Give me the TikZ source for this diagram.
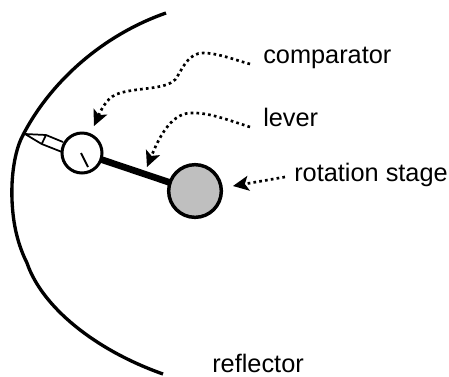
\documentclass[tikz,border=0pt]{standalone}
\usepackage{fontspec}
\setmainfont{Liberation Sans}
\usetikzlibrary{arrows.meta}
\begin{document}
\begin{tikzpicture}[x=0.75pt,y=-0.75pt,
  lbl/.style={inner sep=0pt,font=\fontsize{19}{22}\selectfont,anchor=base west},
  callout/.style={line width=2pt,dash pattern=on 2pt off 2.4pt,-{Stealth[length=12pt,width=11.5pt,inset=3pt,line width=0pt]}},
  body/.style={draw=black,line width=2.25pt},
  thin part/.style={draw=black,line width=1.3pt,line join=miter}]
\useasboundingbox (0,0) rectangle (449,376);
% reflector
\draw[line width=2.5pt] (166,13) .. controls (100,36) and (48,85) .. (22,137) .. controls (15,151) and (11,175) .. (12,200) .. controls (13,225) and (18,245) .. (27,263) .. controls (42,307) and (95,350) .. (163,374);
% probe
\coordinate (tip) at (25,134);
\coordinate (p1) at (46,135);
\coordinate (p2) at (41.7,144);
\coordinate (p3) at (63,142);
\coordinate (p4) at (62,152);
\draw[thin part] (p3) -- (p1) -- (tip) -- (p2) -- (p4);
\draw[thin part] (p1) -- (p2);
% dial
\node[circle,body,fill=white,minimum size=30pt,inner sep=0pt] (dial) at (82,153) {};
\coordinate (n1) at (81,153);
\coordinate (n2) at (88,167);
\draw[thin part,line width=1.4pt] (n1) -- (n2);
% stage and lever
\node[circle,draw=black,line width=2.6pt,fill=black!25,minimum size=39.5pt,inner sep=0pt] (stage) at (195,191) {};
\draw[line width=5pt,shorten >=-1pt,shorten <=-1pt] (dial) -- (stage);
% labels
\node[lbl] (comparator) at (263,63) {comparator};
\node[lbl] (lever) at (263,126) {lever};
\node[lbl] (rotation) at (294,181) {rotation stage};
\node[lbl] (reflector) at (212,372) {reflector};
% callouts
\coordinate (c0) at (250,64);
\coordinate (c1) at (94,126);
\draw[callout] (c0) .. controls (235,60) and (218,53) .. (203,53) .. controls (190,53) and (184,65) .. (177,77) .. controls (170,90) and (140,87) .. (120,93) .. controls (108,96) and (102,108) .. (c1);
\coordinate (d0) at (250,127);
\coordinate (d1) at (147,167);
\draw[callout] (d0) .. controls (228,120) and (208,112) .. (190,113) .. controls (170,114) and (158,140) .. (d1);
\coordinate (e0) at (285,177);
\coordinate (e1) at (233,186);
\draw[callout] (e0) -- (e1);
\end{tikzpicture}
\end{document}
